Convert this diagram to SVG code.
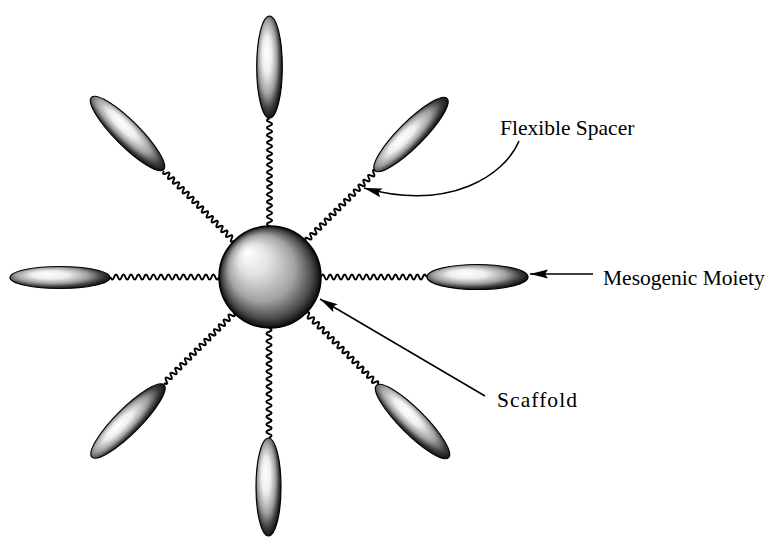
<svg xmlns="http://www.w3.org/2000/svg" xmlns:xlink="http://www.w3.org/1999/xlink" width="771" height="539" viewBox="0 0 771 539">
<style>
.mes{stroke:#000;stroke-width:1.2;fill:url(#ellG)}
.wave{fill:none;stroke:#000;stroke-width:2;vector-effect:non-scaling-stroke}
.lbl{font-family:"Liberation Serif","Times New Roman",serif;font-size:21.5px;fill:#000}
.arr{fill:none;stroke:#000;stroke-width:1.5;marker-end:url(#ah)}
</style>
<defs>
<radialGradient id="ellG" cx="0.45" cy="0.45" r="0.6" fx="0.38" fy="0.35">
<stop offset="0" stop-color="#ffffff"/>
<stop offset="0.3" stop-color="#eeeeee"/>
<stop offset="0.6" stop-color="#a0a0a0"/>
<stop offset="0.8" stop-color="#404040"/>
<stop offset="1" stop-color="#000000"/>
</radialGradient>
<radialGradient id="sphG" cx="0.5" cy="0.5" r="0.5" fx="0.27" fy="0.25">
<stop offset="0" stop-color="#ffffff"/>
<stop offset="0.3" stop-color="#e2e2e2"/>
<stop offset="0.65" stop-color="#a2a2a2"/>
<stop offset="0.88" stop-color="#4a4a4a"/>
<stop offset="1" stop-color="#0a0a0a"/>
</radialGradient>
<path id="wv" class="wave" d="M0,0 q1.8,-5.2 3.6,0 t3.6,0 t3.6,0 t3.6,0 t3.6,0 t3.6,0 t3.6,0 t3.6,0 t3.6,0 t3.6,0 t3.6,0 t3.6,0 t3.6,0 t3.6,0 t3.6,0 t3.6,0 t3.6,0 t3.6,0 t3.6,0 t3.6,0 t3.6,0 t3.6,0 t3.6,0 t3.6,0 t3.6,0 t3.6,0 t3.6,0 t3.6,0 t3.6,0"/>
<marker id="ah" markerUnits="userSpaceOnUse" markerWidth="20" markerHeight="12" viewBox="-19 -6 20 12" refX="0" refY="0" orient="auto">
<path d="M0,0 L-18,-4.5 L-15,0 L-18,4.5 z" fill="#000"/>
</marker>
</defs>

<g id="connectors">
<use xlink:href="#wv" href="#wv" transform="translate(321,277) rotate(0) scale(1.01,1)"/>
<use xlink:href="#wv" href="#wv" transform="translate(219,277) rotate(180) scale(1.04,1)"/>
<use xlink:href="#wv" href="#wv" transform="translate(269.5,226) rotate(-90) scale(1.03,1)"/>
<use xlink:href="#wv" href="#wv" transform="translate(269,328) rotate(90) scale(1.05,1)"/>
<use xlink:href="#wv" href="#wv" transform="translate(306,241) rotate(-45) scale(0.95,1)"/>
<use xlink:href="#wv" href="#wv" transform="translate(234,241) rotate(-135) scale(0.95,1)"/>
<use xlink:href="#wv" href="#wv" transform="translate(234,313) rotate(135) scale(0.95,1)"/>
<use xlink:href="#wv" href="#wv" transform="translate(306,313) rotate(45) scale(0.97,1)"/>
<path class="arr" d="M519,141 C505,175 450,212 364,188"/>
<path class="arr" d="M593,274 L530,274"/>
<path class="arr" d="M485,396 L320,299"/>
</g>

<g id="scaffold">
<circle cx="270" cy="277" r="51" fill="url(#sphG)" stroke="#000" stroke-width="1.5"/>
</g>

<g id="mesogen-top"><ellipse class="mes" cx="269.5" cy="67" rx="12.8" ry="51"/></g>
<g id="mesogen-bottom"><ellipse class="mes" cx="268.5" cy="487" rx="12.5" ry="49"/></g>
<g id="mesogen-left"><ellipse class="mes" cx="60" cy="277.5" rx="50" ry="11"/></g>
<g id="mesogen-right"><ellipse class="mes" cx="477.5" cy="277" rx="50.5" ry="12.5"/></g>
<g id="mesogen-ur"><ellipse class="mes" cx="0" cy="0" rx="51" ry="12.5" transform="translate(411,134.5) rotate(-45)"/></g>
<g id="mesogen-ul"><ellipse class="mes" cx="0" cy="0" rx="51" ry="12.5" transform="translate(127.5,133.5) rotate(45)"/></g>
<g id="mesogen-ll"><ellipse class="mes" cx="0" cy="0" rx="51" ry="12.5" transform="translate(128,421) rotate(-45)"/></g>
<g id="mesogen-lr"><ellipse class="mes" cx="0" cy="0" rx="51" ry="12.5" transform="translate(412.5,421.5) rotate(45)"/></g>

<g id="label-spacer"><text class="lbl" x="500" y="135">Flexible Spacer</text></g>
<g id="label-mesogen"><text class="lbl" x="603" y="285">Mesogenic Moiety</text></g>
<g id="label-scaffold"><text class="lbl" x="497" y="407" textLength="80">Scaffold</text></g>
</svg>
